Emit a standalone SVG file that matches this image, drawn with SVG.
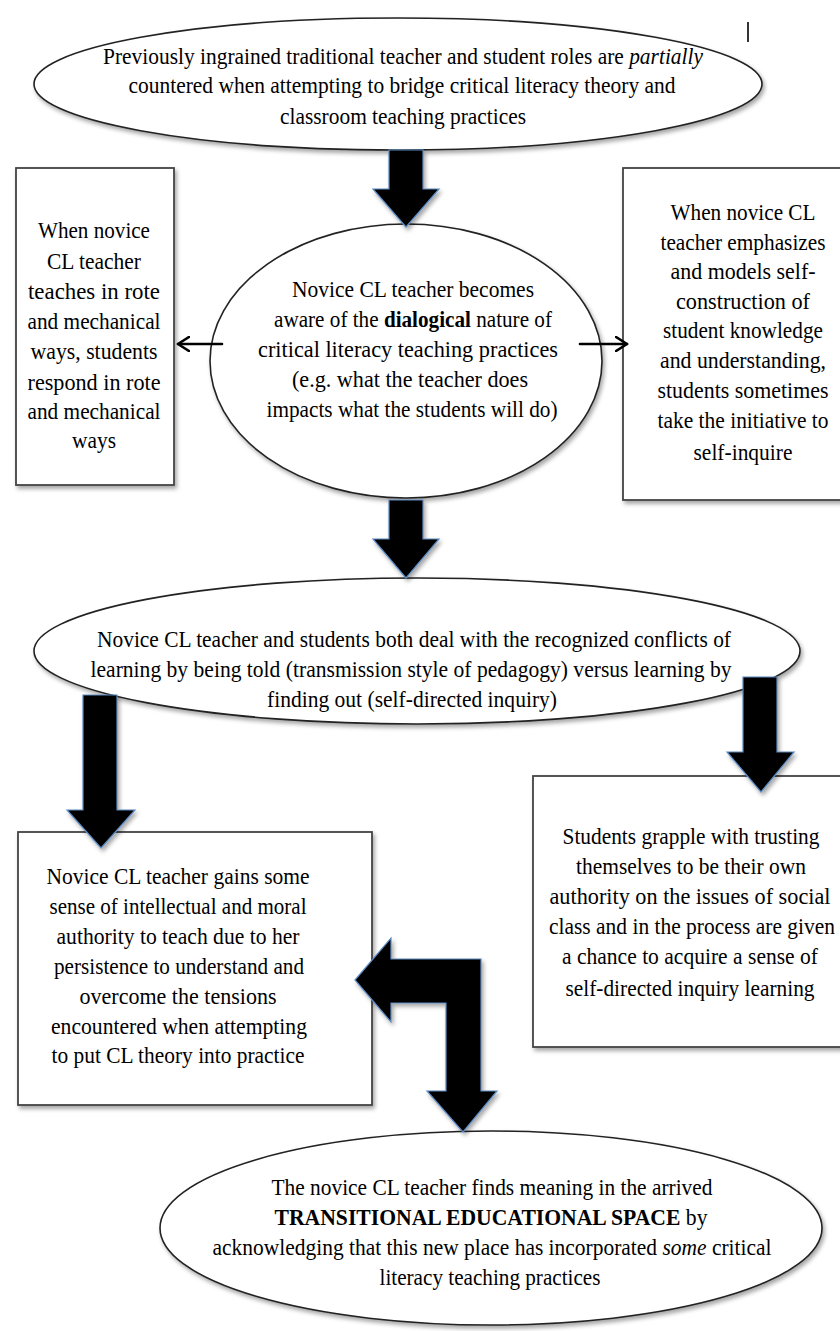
<svg xmlns="http://www.w3.org/2000/svg" width="840" height="1331" viewBox="0 0 840 1331">
<style>
text{font-family:"Liberation Serif","Times New Roman",serif;font-size:23px;fill:#000;text-anchor:middle}
.shape{fill:#fff;stroke:#222;stroke-width:1.6}
.box{fill:#fff;stroke:#444;stroke-width:1.8}
.blk{fill:#000;stroke:#5b8ac2;stroke-width:1.2;stroke-linejoin:miter}
.thin{fill:none;stroke:#000;stroke-width:2.6;stroke-linecap:round}
</style>
<defs>
<filter id="sh" x="-10%" y="-10%" width="130%" height="130%">
<feDropShadow dx="2" dy="3" stdDeviation="2" flood-color="#000" flood-opacity="0.35"/>
</filter>
<marker id="chev" viewBox="0 0 14 16" refX="12" refY="8" markerWidth="14" markerHeight="16" markerUnits="userSpaceOnUse" orient="auto">
<path d="M1,1 L12,8 L1,15" fill="none" stroke="#000" stroke-width="2.6" stroke-linecap="round" stroke-linejoin="round"/>
</marker>
</defs>
<line x1="748" y1="22" x2="748" y2="42" stroke="#000" stroke-width="1.6"/>

<g id="box-rote">
<rect class="box" x="16" y="168" width="158" height="317" filter="url(#sh)"/>
<text x="94" y="238" textLength="112" lengthAdjust="spacingAndGlyphs">When novice</text>
<text x="94" y="269" textLength="94" lengthAdjust="spacingAndGlyphs">CL teacher</text>
<text x="94" y="299" textLength="132" lengthAdjust="spacingAndGlyphs">teaches in rote</text>
<text x="94" y="329" textLength="133" lengthAdjust="spacingAndGlyphs">and mechanical</text>
<text x="94" y="359" textLength="127" lengthAdjust="spacingAndGlyphs">ways, students</text>
<text x="94" y="390" textLength="133" lengthAdjust="spacingAndGlyphs">respond in rote</text>
<text x="94" y="419" textLength="133" lengthAdjust="spacingAndGlyphs">and mechanical</text>
<text x="94" y="448" textLength="44" lengthAdjust="spacingAndGlyphs">ways</text>
</g>

<g id="box-self">
<rect class="box" x="623" y="168" width="218" height="332" filter="url(#sh)"/>
<text x="743" y="220" textLength="145" lengthAdjust="spacingAndGlyphs">When novice CL</text>
<text x="743" y="250" textLength="165" lengthAdjust="spacingAndGlyphs">teacher emphasizes</text>
<text x="743" y="279" textLength="145" lengthAdjust="spacingAndGlyphs">and models self-</text>
<text x="743" y="309" textLength="134" lengthAdjust="spacingAndGlyphs">construction of</text>
<text x="743" y="338" textLength="160" lengthAdjust="spacingAndGlyphs">student knowledge</text>
<text x="743" y="368" textLength="166" lengthAdjust="spacingAndGlyphs">and understanding,</text>
<text x="743" y="398" textLength="171" lengthAdjust="spacingAndGlyphs">students sometimes</text>
<text x="743" y="428" textLength="171" lengthAdjust="spacingAndGlyphs">take the initiative to</text>
<text x="743" y="460" textLength="99" lengthAdjust="spacingAndGlyphs">self-inquire</text>
</g>

<g id="top-ellipse">
<ellipse class="shape" cx="398" cy="84" rx="364" ry="66" filter="url(#sh)"/>
<text x="403" y="64" textLength="600" lengthAdjust="spacingAndGlyphs">Previously ingrained traditional teacher and student roles are <tspan font-style="italic">partially</tspan></text>
<text x="402" y="93" textLength="547" lengthAdjust="spacingAndGlyphs">countered when attempting to bridge critical literacy theory and</text>
<text x="403" y="124" textLength="246" lengthAdjust="spacingAndGlyphs">classroom teaching practices</text>
</g>

<g id="center-ellipse">
<ellipse class="shape" cx="406" cy="361" rx="196" ry="137" filter="url(#sh)"/>
<text x="413" y="297" textLength="242" lengthAdjust="spacingAndGlyphs">Novice CL teacher becomes</text>
<text x="413" y="327" textLength="278" lengthAdjust="spacingAndGlyphs">aware of the <tspan font-weight="bold">dialogical</tspan> nature of</text>
<text x="408" y="357" textLength="300" lengthAdjust="spacingAndGlyphs">critical literacy teaching practices</text>
<text x="410" y="387" textLength="236" lengthAdjust="spacingAndGlyphs">(e.g. what the teacher does</text>
<text x="412" y="417" textLength="291" lengthAdjust="spacingAndGlyphs">impacts what the students will do)</text>
</g>

<g id="conflict-ellipse">
<ellipse class="shape" cx="417" cy="651" rx="383" ry="73" filter="url(#sh)"/>
<text x="414" y="647" textLength="634" lengthAdjust="spacingAndGlyphs">Novice CL teacher and students both deal with the recognized conflicts of</text>
<text x="411" y="677" textLength="641" lengthAdjust="spacingAndGlyphs">learning by being told (transmission style of pedagogy) versus learning by</text>
<text x="412" y="707" textLength="290" lengthAdjust="spacingAndGlyphs">finding out (self-directed inquiry)</text>
</g>

<g id="box-authority">
<rect class="box" x="18" y="832" width="354" height="273" filter="url(#sh)"/>
<text x="178" y="884" textLength="263" lengthAdjust="spacingAndGlyphs">Novice CL teacher gains some</text>
<text x="178" y="914" textLength="257" lengthAdjust="spacingAndGlyphs">sense of intellectual and moral</text>
<text x="178" y="944" textLength="243" lengthAdjust="spacingAndGlyphs">authority to teach due to her</text>
<text x="179" y="974" textLength="250" lengthAdjust="spacingAndGlyphs">persistence to understand and</text>
<text x="178" y="1004" textLength="197" lengthAdjust="spacingAndGlyphs">overcome the tensions</text>
<text x="179" y="1034" textLength="256" lengthAdjust="spacingAndGlyphs">encountered when attempting</text>
<text x="178" y="1063" textLength="253" lengthAdjust="spacingAndGlyphs">to put CL theory into practice</text>
</g>

<g id="box-students">
<rect class="box" x="533" y="776" width="308" height="271" filter="url(#sh)"/>
<text x="691" y="844" textLength="257" lengthAdjust="spacingAndGlyphs">Students grapple with trusting</text>
<text x="691" y="874" textLength="230" lengthAdjust="spacingAndGlyphs">themselves to be their own</text>
<text x="690" y="904" textLength="281" lengthAdjust="spacingAndGlyphs">authority on the issues of social</text>
<text x="692" y="934" textLength="286" lengthAdjust="spacingAndGlyphs">class and in the process are given</text>
<text x="690" y="964" textLength="256" lengthAdjust="spacingAndGlyphs">a chance to acquire a sense of</text>
<text x="690" y="996" textLength="249" lengthAdjust="spacingAndGlyphs">self-directed inquiry learning</text>
</g>

<g id="bottom-ellipse">
<ellipse class="shape" cx="491" cy="1228" rx="331" ry="97" filter="url(#sh)"/>
<text x="492" y="1195" textLength="441" lengthAdjust="spacingAndGlyphs">The novice CL teacher finds meaning in the arrived</text>
<text x="491" y="1225" textLength="433" lengthAdjust="spacingAndGlyphs"><tspan font-weight="bold">TRANSITIONAL EDUCATIONAL SPACE</tspan> by</text>
<text x="492" y="1255" textLength="559" lengthAdjust="spacingAndGlyphs">acknowledging that this new place has incorporated <tspan font-style="italic">some</tspan> critical</text>
<text x="490" y="1285" textLength="221" lengthAdjust="spacingAndGlyphs">literacy teaching practices</text>
</g>

<g id="connectors">
<path class="blk" filter="url(#sh)" d="M389,150 L423,150 L423,189 L439,189 L406,227 L373,189 L389,189 Z"/>
<path class="blk" filter="url(#sh)" d="M389,500 L423,500 L423,539 L439,539 L406,578 L373,539 L389,539 Z"/>
<path class="blk" filter="url(#sh)" d="M83,695 L117,695 L117,810 L135,810 L101,848 L67,810 L83,810 Z"/>
<path class="blk" filter="url(#sh)" d="M743,677 L777,677 L777,752 L794,752 L761,792 L727,752 L743,752 Z"/>
<path class="blk" filter="url(#sh)" d="M355,980 L391,938 L391,959 L481,959 L481,1091 L497,1091 L463,1132 L427,1091 L446,1091 L446,1003 L391,1003 L391,1022 Z"/>
<line class="thin" x1="222" y1="344" x2="178" y2="344" marker-end="url(#chev)"/>
<line class="thin" x1="580" y1="344" x2="627" y2="344" marker-end="url(#chev)"/>
</g>
</svg>
